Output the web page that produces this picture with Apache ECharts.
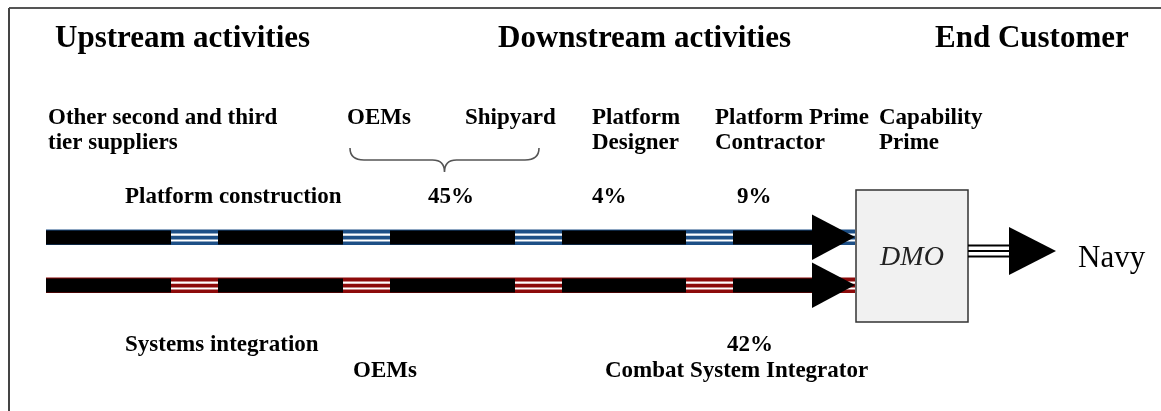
<!DOCTYPE html>
<html>
<head>
<meta charset="utf-8">
<script src="https://cdn.jsdelivr.net/npm/echarts@6/dist/echarts.min.js"></script>
<style>
  html, body { margin: 0; padding: 0; background: #fff; }
  #chart { width: 1161px; height: 411px; }
</style>
</head>
<body>
<div id="chart"></div>
<script>
// value chain diagram, drawn on a 1161 x 411 value grid
const serif = '"Liberation Serif", "Times New Roman", serif'

const headerLabels = ['Upstream activities', 'Downstream activities', 'End Customer']
const headerX = [55, 498, 935]
const headerY = 39

const stageLabels = ['Other second and third\ntier suppliers', 'OEMs', 'Shipyard', 'Platform\nDesigner', 'Platform Prime\nContractor', 'Capability\nPrime']
const stageX = [48, 347, 465, 592, 715, 879]
const stageTop = 105.5

const platformLabels = ['Platform construction', '45%', '4%', '9%']
const platformX = [125, 428, 592, 737]
const platformY = 197

const systemsLabels = ['Systems integration', '42%', 'OEMs', 'Combat System Integrator']
const systemsX = [125, 727, 353, 605]
const systemsY = [345, 345, 371, 371]

// the two flows: platform (blue) and systems (red)
const flowY = [237, 285]
const flowColors = ['#1d4f86', '#8c0a0a']
const flowStart = 46
const arrowBase = 812
const arrowTip = 855
const blackSegments = [[46, 171], [218, 343], [390, 515], [562, 686], [733, 812]]

const braceSpan = [350, 539]
const braceY = [148, 160, 172]

const dmoBox = [856, 190, 968, 322]
const navyLine = [968, 1010]
const navyArrow = [1009, 1056]
const navyY = 251

const chart = echarts.init(document.getElementById('chart'), null, { renderer: 'canvas' })

function textSeries(labels, xs, ys, opts) {
  return {
    type: 'custom',
    coordinateSystem: 'cartesian2d',
    silent: true,
    data: labels.map((t, i) => [xs[i], Array.isArray(ys) ? ys[i] : ys]),
    renderItem: (params, api) => {
      const p = api.coord([api.value(0), api.value(1)])
      return {
        type: 'text',
        x: p[0],
        y: p[1],
        style: Object.assign({
          text: labels[params.dataIndex],
          fill: '#000',
          fontFamily: serif,
          fontWeight: 'bold',
          fontSize: 23,
          lineHeight: 25,
          align: 'left',
          verticalAlign: 'middle',
        }, opts),
      }
    },
  }
}

const option = {
  animation: false,
  grid: { left: 0, right: 0, top: 0, bottom: 0 },
  xAxis: { type: 'value', min: 0, max: 1161, show: false },
  yAxis: { type: 'value', min: 0, max: 411, inverse: true, show: false },
  series: [
    // frame: top and left edge
    {
      type: 'custom',
      silent: true,
      data: [[0]],
      renderItem: (params, api) => {
        const a = api.coord([9, 8])
        const b = api.coord([1161, 411])
        return {
          type: 'group',
          children: [
            { type: 'line', shape: { x1: a[0], y1: a[1], x2: b[0], y2: a[1] }, style: { stroke: '#555', lineWidth: 2 } },
            { type: 'line', shape: { x1: a[0], y1: a[1], x2: a[0], y2: b[1] }, style: { stroke: '#444', lineWidth: 2 } },
          ],
        }
      },
    },
    // coloured double-line stripes
    {
      type: 'custom',
      silent: true,
      data: flowY.map(y => [flowStart, y]),
      renderItem: (params, api) => {
        const a = api.coord([flowStart, api.value(1)])
        const b = api.coord([arrowTip, api.value(1)])
        const c = flowColors[params.dataIndex]
        const w = b[0] - a[0]
        return {
          type: 'group',
          children: [
            { type: 'rect', shape: { x: a[0], y: a[1] - 7.5, width: w, height: 15.5 }, style: { fill: c } },
            { type: 'rect', shape: { x: a[0], y: a[1] - 3.5, width: w, height: 2.2 }, style: { fill: '#fff' } },
            { type: 'rect', shape: { x: a[0], y: a[1] + 2.5, width: w, height: 2 }, style: { fill: '#fff' } },
          ],
        }
      },
    },
    // black segments
    {
      type: 'custom',
      silent: true,
      data: flowY.flatMap(y => blackSegments.map(s => [s[0], s[1], y])),
      renderItem: (params, api) => {
        const a = api.coord([api.value(0), api.value(2)])
        const b = api.coord([api.value(1), api.value(2)])
        return {
          type: 'rect',
          shape: { x: a[0], y: a[1] - 6.5, width: b[0] - a[0], height: 14 },
          style: { fill: '#000' },
        }
      },
    },
    // arrow heads into DMO
    {
      type: 'custom',
      silent: true,
      data: flowY.map(y => [arrowBase, y]),
      renderItem: (params, api) => {
        const y = api.value(1)
        const p1 = api.coord([arrowBase, y - 22.5])
        const p2 = api.coord([arrowTip, y])
        const p3 = api.coord([arrowBase, y + 23])
        return { type: 'polygon', shape: { points: [p1, p2, p3] }, style: { fill: '#000' } }
      },
    },
    // DMO box, triple line and arrow to Navy
    {
      type: 'custom',
      silent: true,
      data: [[dmoBox[0], dmoBox[1]]],
      renderItem: (params, api) => {
        const a = api.coord([dmoBox[0], dmoBox[1]])
        const b = api.coord([dmoBox[2], dmoBox[3]])
        const l0 = api.coord([navyLine[0], navyY])
        const l1 = api.coord([navyLine[1], navyY])
        const h1 = api.coord([navyArrow[0], navyY - 24])
        const h2 = api.coord([navyArrow[1], navyY])
        const h3 = api.coord([navyArrow[0], navyY + 24])
        const lines = [-5.5, 0, 5.5].map(d => ({
          type: 'line',
          shape: { x1: l0[0], y1: l0[1] + d, x2: l1[0], y2: l1[1] + d },
          style: { stroke: '#000', lineWidth: 2.2 },
        }))
        return {
          type: 'group',
          children: [
            { type: 'rect', shape: { x: a[0], y: a[1], width: b[0] - a[0], height: b[1] - a[1] }, style: { fill: '#f1f1f1', stroke: '#333', lineWidth: 1.5 } },
            { type: 'text', x: (a[0] + b[0]) / 2, y: api.coord([0, 258])[1], style: { text: 'DMO', fill: '#222', fontFamily: serif, fontStyle: 'italic', fontSize: 28, align: 'center', verticalAlign: 'middle' } },
          ].concat(lines, [
            { type: 'polygon', shape: { points: [h1, h2, h3] }, style: { fill: '#000' } },
          ]),
        }
      },
    },
    // curly brace under OEMs / Shipyard
    {
      type: 'custom',
      silent: true,
      data: [[braceSpan[0], braceY[0]]],
      renderItem: (params, api) => {
        const x0 = braceSpan[0]
        const x1 = braceSpan[1]
        const xc = (x0 + x1) / 2
        const P = (x, y) => api.coord([x, y])
        const s = P(x0, braceY[0])
        const m = P(x0, braceY[1])
        const q1 = P(x0 + 14, braceY[1])
        const q2 = P(xc - 12, braceY[1])
        const c = P(xc, braceY[1])
        const t = P(xc, braceY[2])
        const r2 = P(xc + 12, braceY[1])
        const r1 = P(x1 - 14, braceY[1])
        const e = P(x1, braceY[1])
        const f = P(x1, braceY[0])
        const d = `M${s[0]},${s[1]} Q${m[0]},${m[1]} ${q1[0]},${q1[1]} L${q2[0]},${q2[1]} Q${c[0]},${c[1]} ${t[0]},${t[1]} Q${c[0]},${c[1]} ${r2[0]},${r2[1]} L${r1[0]},${r1[1]} Q${e[0]},${e[1]} ${f[0]},${f[1]}`
        return { type: 'path', shape: { pathData: d }, style: { stroke: '#555', lineWidth: 1.6, fill: null } }
      },
    },
    textSeries(headerLabels, headerX, headerY, { fontSize: 31 }),
    textSeries(stageLabels, stageX, stageTop, { verticalAlign: 'top' }),
    textSeries(platformLabels, platformX, platformY),
    textSeries(systemsLabels, systemsX, systemsY),
    textSeries(['Navy'], [1078], 259, { fontWeight: 'normal', fontSize: 31 }),
  ],
}

chart.setOption(option)
</script>
</body>
</html>
